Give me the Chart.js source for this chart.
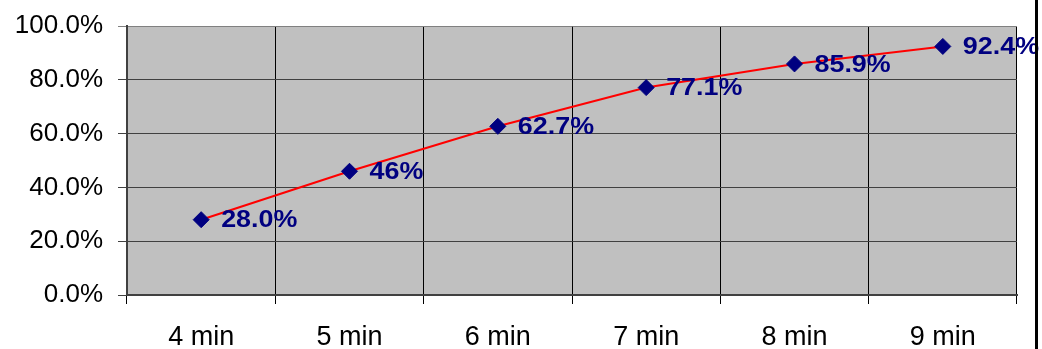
<!DOCTYPE html>
<html>
<head>
<meta charset="utf-8">
<script src="https://cdn.jsdelivr.net/npm/chart.js@4/dist/chart.umd.min.js"></script>
<style>
  html, body { margin: 0; padding: 0; background: #ffffff; }
  #wrap { width: 1042px; height: 349px; position: relative; }
</style>
</head>
<body>
<div id="wrap"><canvas id="c" width="1042" height="349"></canvas></div>
<script>
// Share of completions by elapsed time
const categories = ['4 min', '5 min', '6 min', '7 min', '8 min', '9 min'];
const values = [28.0, 46, 62.7, 77.1, 85.9, 92.4];
const valueLabels = ['28.0%', '46%', '62.7%', '77.1%', '85.9%', '92.4%'];
const yTicks = [0, 20, 40, 60, 80, 100];

const NAVY = '#000080';

// Bold value labels to the right of each marker
const valueLabelPlugin = {
  id: 'valueLabels',
  afterDatasetsDraw(chart) {
    const { ctx } = chart;
    const meta = chart.getDatasetMeta(0);
    ctx.save();
    ctx.fillStyle = NAVY;
    ctx.font = 'bold 24px "Liberation Sans", Arial, sans-serif';
    ctx.textBaseline = 'middle';
    ctx.textAlign = 'left';
    meta.data.forEach((pt, i) => {
      ctx.save();
      ctx.translate(pt.x + 20, pt.y + 1);
      ctx.scale(1.12, 1);
      ctx.fillText(valueLabels[i], 0, 0);
      ctx.restore();
    });
    ctx.restore();
  }
};

// Frame edge on the right side of the canvas
const frameEdgePlugin = {
  id: 'frameEdge',
  afterDraw(chart) {
    const { ctx } = chart;
    ctx.save();
    ctx.fillStyle = '#000000';
    ctx.fillRect(chart.width - 7, 0, 3, chart.height);
    ctx.restore();
  }
};

// Grey plot background
const plotBgPlugin = {
  id: 'plotBg',
  beforeDraw(chart) {
    const { ctx, chartArea: a } = chart;
    ctx.save();
    ctx.fillStyle = '#C0C0C0';
    ctx.fillRect(a.left, a.top, a.right - a.left, a.bottom - a.top);
    ctx.restore();
  }
};

new Chart(document.getElementById('c'), {
  type: 'line',
  data: {
    labels: categories,
    datasets: [{
      data: values,
      borderColor: '#FF0000',
      borderWidth: 2,
      tension: 0,
      fill: false,
      pointStyle: 'rectRot',
      pointRadius: 8,
      pointHoverRadius: 8,
      pointBackgroundColor: NAVY,
      pointBorderColor: NAVY,
      pointBorderWidth: 1,
      clip: false
    }]
  },
  options: {
    responsive: false,
    animation: false,
    devicePixelRatio: 1,
    layout: { padding: { top: 26, right: 25, left: 0, bottom: 0 } },
    plugins: {
      legend: { display: false },
      tooltip: { enabled: false },
      title: { display: false }
    },
    scales: {
      x: {
        type: 'category',
        offset: true,
        afterFit(scale) { scale.height = 54; },
        grid: {
          offset: true,
          drawTicks: true,
          tickLength: 9,
          lineWidth: 1,
          color: (ctx) => ctx.index === categories.length ? '#808080' : '#000000'
        },
        border: { display: true, color: '#404040', width: 2 },
        ticks: {
          color: '#000000',
          padding: 17,
          maxRotation: 0,
          font: { family: '"Liberation Sans", Arial, sans-serif', size: 27 }
        }
      },
      y: {
        min: 0,
        max: 100,
        afterFit(scale) {
          scale.width = 127;
          scale.paddingTop = 0;
          scale.paddingBottom = 0;
        },
        afterBuildTicks(scale) { scale.ticks = yTicks.map(v => ({ value: v })); },
        grid: {
          drawTicks: true,
          tickLength: 9,
          lineWidth: 1,
          color: (ctx) => ctx.tick && ctx.tick.value === 100 ? '#808080' : '#404040'
        },
        border: { display: true, color: '#404040', width: 2 },
        ticks: {
          color: '#000000',
          padding: 15,
          font: { family: '"Liberation Sans", Arial, sans-serif', size: 26 },
          callback: (v) => Number(v).toFixed(1) + '%'
        }
      }
    }
  },
  plugins: [plotBgPlugin, valueLabelPlugin, frameEdgePlugin]
});
</script>
</body>
</html>
